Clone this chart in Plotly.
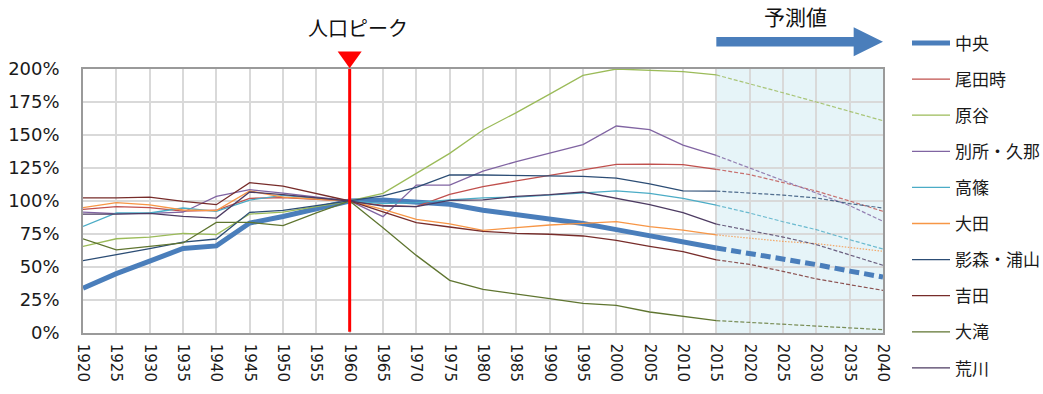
import plotly.graph_objects as go

# Census years (1920-2015) followed by projection years (2020-2040)
years = [1920, 1925, 1930, 1935, 1940, 1945, 1950, 1955, 1960, 1965, 1970, 1975,
         1980, 1985, 1990, 1995, 2000, 2005, 2010, 2015, 2020, 2025, 2030, 2035, 2040]
last_actual_year = 2015
peak_year = 1960

# Population index by district (1960 = 100%)
chuo = [34, 45, 54.5, 64, 66, 83.3, 88.3, 94.5, 100, 100.8, 99, 97.5,
        93, 89.5, 86, 83, 78.3, 73.5, 69, 64.4, 60.5, 56.5, 51.8, 46.9, 42.4]
odaji = [93.6, 95.7, 95, 92.4, 93, 102, 102.5, 101.5, 100, 96.7, 95.7, 105,
         110.9, 115.2, 119.4, 123.5, 127.8, 128, 127.5, 124, 120, 114, 107.5, 100, 92.2]
haraya = [65.6, 71.4, 72.7, 75.5, 74.5, 90.1, 91.6, 96, 100, 105.8, 121, 136.1,
          153.8, 167, 181, 195.2, 200, 199.2, 198, 195.5, 189, 182, 175, 168, 160.8]
bessho_kuna = [91.5, 90.5, 90.6, 91.5, 103.5, 108.6, 106, 103, 100, 88.1, 112.1, 112.1,
               122.7, 129.8, 136.1, 142.7, 156.8, 154, 142.4, 134.5, 125, 116, 106, 96.5, 84.6]
takashino = [80.8, 90.9, 90.9, 94.7, 92.1, 100.7, 104.3, 102, 100, 98, 98.7, 100.8,
             102.3, 103, 104.5, 105.8, 107.6, 105.8, 102, 96.8, 90.9, 84.3, 78.3, 70.7, 63.6]
ota = [95, 98.7, 97, 93.2, 92.7, 107.6, 103, 101.5, 100, 93.7, 86.1, 82.6,
       77.8, 79.8, 81.8, 83.1, 84.3, 80.6, 78, 74.3, 72, 69.4, 67.7, 64.7, 61.9]
kagemori_urayama = [54.8, 59.3, 63.9, 68.9, 71.2, 91.4, 92.9, 96.5, 100, 103.8, 110.4, 119.7,
                    119.7, 119.4, 118.9, 118.7, 117.4, 112.9, 107.6, 107.5, 106, 104.5, 102.3, 98, 94.7]
yoshida = [102.3, 102.3, 103, 99.7, 97.2, 113.9, 111.3, 105.5, 100, 91.7, 83.6, 80.3,
           77, 75.5, 74.8, 73.5, 70.2, 65.7, 61.6, 55.4, 52, 46.7, 41, 36.6, 32.3]
otaki = [71.4, 63, 65.6, 68.2, 83.8, 83.8, 81.3, 91, 100, 79.8, 58.8, 39.9,
         33.1, 29.3, 26, 22.5, 21, 15.9, 12.6, 9.4, 8, 6.7, 5.3, 4, 2.5]
arakawa = [90, 90, 90.6, 88.4, 87.1, 106.8, 104.9, 102.5, 100, 96.2, 95.7, 100.5,
           100.8, 103.5, 104.8, 106.8, 101.8, 97.2, 91.2, 82.5, 77.5, 72.7, 67, 59.3, 51.3]

series_names = ["中央", "尾田時", "原谷", "別所・久那", "高篠", "大田",
                "影森・浦山", "吉田", "大滝", "荒川"]
series_values = [chuo, odaji, haraya, bessho_kuna, takashino, ota,
                 kagemori_urayama, yoshida, otaki, arakawa]
series_colors = ["#4A7EBB", "#C0504D", "#9BBB59", "#8064A2", "#4BACC6", "#F79646",
                 "#2C4D75", "#772C2A", "#5F7530", "#4D3B62"]

y_ticks = [0, 25, 50, 75, 100, 125, 150, 175, 200]
y_tick_labels = [f"{v}%" for v in y_ticks]

FONT = "DejaVu Sans, Noto Sans CJK JP"
JP_FONT = "Noto Sans CJK JP"

split = years.index(last_actual_year)

fig = go.Figure()
for name, vals, color in zip(series_names, series_values, series_colors):
    is_main = name == "中央"
    width = 5 if is_main else 1.3
    if is_main:
        proj_dash = "10px,5px"
    elif name == "大田":
        proj_dash = "1.5px,1.5px"
    else:
        proj_dash = "4px,2px"
    fig.add_trace(go.Scatter(
        x=years[:split + 1], y=vals[:split + 1], mode="lines", name=name,
        legendgroup=name, line=dict(color=color, width=width),
    ))
    fig.add_trace(go.Scatter(
        x=years[split:], y=vals[split:], mode="lines", name=name,
        legendgroup=name, showlegend=False,
        line=dict(color=color, width=width if is_main else 1.2, dash=proj_dash),
        opacity=1 if is_main else 0.8,
    ))

shapes = [
    # projection period background
    dict(type="rect", xref="x", yref="paper", x0=last_actual_year, x1=years[-1],
         y0=0, y1=1, fillcolor="rgba(190,225,236,0.38)", line=dict(width=0),
         layer="between"),
    # population peak marker
    dict(type="line", xref="x", yref="paper", x0=peak_year, x1=peak_year,
         y0=0.005, y1=1, line=dict(color="#FF0000", width=3)),
    dict(type="path", xref="x", yref="paper",
         path=f"M {peak_year - 1.8},1.066 L {peak_year + 1.8},1.066 L {peak_year},1.003 Z",
         fillcolor="#FF0000", line=dict(width=0)),
    # projection arrow
    dict(type="path", xref="x", yref="paper",
         path=(f"M {last_actual_year},1.085 L 2035.6,1.085 L 2035.6,1.048 "
               f"L {years[-1]},1.103 L 2035.6,1.158 L 2035.6,1.121 "
               f"L {last_actual_year},1.121 Z"),
         fillcolor="#4A7EBB", line=dict(width=0)),
]

annotations = [
    dict(text="人口ピーク", x=peak_year + 1.2, y=1.156, xref="x", yref="paper",
         xanchor="center", yanchor="middle",
         showarrow=False, font=dict(family=JP_FONT, size=20, color="#111111")),
    dict(text="予測値", x=2026.9, y=1.202, xref="x", yref="paper",
         xanchor="center", yanchor="middle",
         showarrow=False, font=dict(family=JP_FONT, size=21, color="#111111")),
]

fig.update_layout(
    width=1043, height=394,
    margin=dict(l=83, r=160, t=69, b=61, autoexpand=False),
    paper_bgcolor="white", plot_bgcolor="white",
    font=dict(family=FONT, color="#1A1A1A"),
    shapes=shapes, annotations=annotations,
    legend=dict(x=1.03, y=1.165, xanchor="left", yanchor="top",
                traceorder="grouped", tracegroupgap=11, itemwidth=38,
                maxheight=420,
                font=dict(family=JP_FONT, size=17, color="#1A1A1A"),
                bgcolor="rgba(0,0,0,0)"),
    xaxis=dict(range=[years[0], years[-1]], tickmode="array", tickvals=years,
               ticktext=[str(y) for y in years], tickangle=90, automargin=False,
               tickfont=dict(family="DejaVu Sans", size=15, color="#1A1A1A"),
               showgrid=True, gridcolor="#D9D9D9", gridwidth=1.5,
               showline=True, linecolor="#9A9A9A", linewidth=1.5, mirror=True,
               ticks="", ticklabelstandoff=6, zeroline=False),
    yaxis=dict(range=[0, 200], tickmode="array", tickvals=y_ticks,
               ticktext=y_tick_labels, automargin=False,
               tickfont=dict(family="DejaVu Sans", size=18, color="#1A1A1A"),
               showgrid=True, gridcolor="#D9D9D9", gridwidth=1.5,
               showline=True, linecolor="#9A9A9A", linewidth=1.5, mirror=True,
               ticks="", ticklabelstandoff=18, zeroline=False),
)

fig.write_html("out.html")
